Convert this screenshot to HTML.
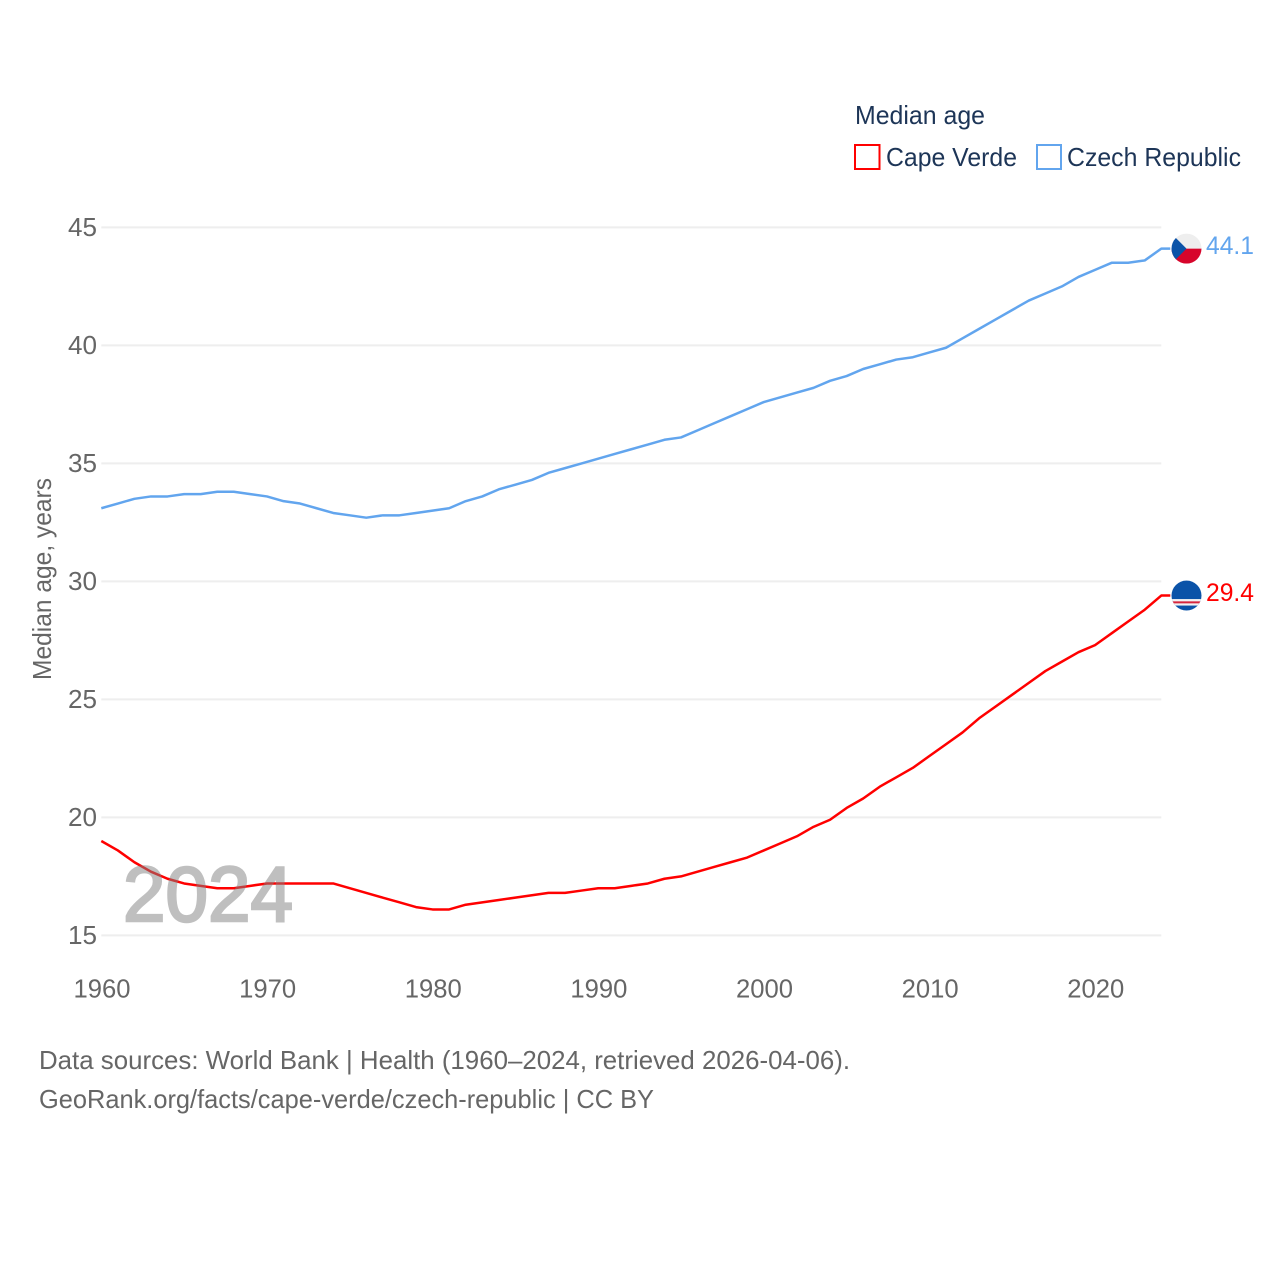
<!DOCTYPE html>
<html lang="en">
<head>
<meta charset="utf-8">
<title>Median age: Cape Verde and Czech Republic</title>
<style>
html,body{margin:0;padding:0;background:#fff;}
svg{display:block;}
text{font-family:"Liberation Sans",sans-serif;}
</style>
</head>
<body>
<svg id="chart" width="1280" height="1280" viewBox="0 0 1280 1280" xmlns="http://www.w3.org/2000/svg">
  <defs>
    <clipPath id="flag-clip-cz"><circle id="clip-cz" r="15"/></clipPath>
    <clipPath id="flag-clip-cv"><circle id="clip-cv" r="15"/></clipPath>
  </defs>
  <g id="grid"></g>
  <g id="yticks"></g>
  <g id="xticks"></g>
  <text transform="translate(51,680) rotate(-90)" font-size="26" fill="#666" textLength="202" lengthAdjust="spacingAndGlyphs">Median age, years</text>
  <g id="series"></g>
  <text x="123" y="921" font-size="78" fill="#808080" stroke="#808080" stroke-width="2.5" opacity="0.5" textLength="170" lengthAdjust="spacingAndGlyphs">2024</text>
  <g id="flag-cz" clip-path="url(#flag-clip-cz)"></g>
  <g id="flag-cv" clip-path="url(#flag-clip-cv)"></g>
  <g id="end-labels"></g>

  <g>
    <text x="855" y="124" font-size="26" fill="#1d3557" textLength="130" lengthAdjust="spacingAndGlyphs">Median age</text>
    <g>
      <rect x="855" y="145" width="24.5" height="24" fill="#fff" stroke="#ff0000" stroke-width="2"/>
      <text x="886" y="166" font-size="26" fill="#1d3557" textLength="131" lengthAdjust="spacingAndGlyphs">Cape Verde</text>
    </g>
    <g>
      <rect x="1037" y="145" width="24" height="24" fill="#fff" stroke="#62a5ee" stroke-width="2"/>
      <text x="1067" y="166" font-size="26" fill="#1d3557" textLength="174" lengthAdjust="spacingAndGlyphs">Czech Republic</text>
    </g>
  </g>

  <g>
    <text x="39" y="1069" font-size="26" fill="#666" textLength="811" lengthAdjust="spacingAndGlyphs">Data sources: World Bank | Health (1960–2024, retrieved 2026-04-06).</text>
    <text x="39" y="1108" font-size="26" fill="#666" textLength="615" lengthAdjust="spacingAndGlyphs">GeoRank.org/facts/cape-verde/czech-republic | CC BY</text>
  </g>
</svg>
<script>
const years = [1960,1961,1962,1963,1964,1965,1966,1967,1968,1969,1970,1971,1972,1973,1974,1975,1976,1977,1978,1979,1980,1981,1982,1983,1984,1985,1986,1987,1988,1989,1990,1991,1992,1993,1994,1995,1996,1997,1998,1999,2000,2001,2002,2003,2004,2005,2006,2007,2008,2009,2010,2011,2012,2013,2014,2015,2016,2017,2018,2019,2020,2021,2022,2023,2024];
const capeVerde = [19.0,18.6,18.1,17.7,17.4,17.2,17.1,17.0,17.0,17.1,17.2,17.2,17.2,17.2,17.2,17.0,16.8,16.6,16.4,16.2,16.1,16.1,16.3,16.4,16.5,16.6,16.7,16.8,16.8,16.9,17.0,17.0,17.1,17.2,17.4,17.5,17.7,17.9,18.1,18.3,18.6,18.9,19.2,19.6,19.9,20.4,20.8,21.3,21.7,22.1,22.6,23.1,23.6,24.2,24.7,25.2,25.7,26.2,26.6,27.0,27.3,27.8,28.3,28.8,29.4];
const czechRepublic = [33.1,33.3,33.5,33.6,33.6,33.7,33.7,33.8,33.8,33.7,33.6,33.4,33.3,33.1,32.9,32.8,32.7,32.8,32.8,32.9,33.0,33.1,33.4,33.6,33.9,34.1,34.3,34.6,34.8,35.0,35.2,35.4,35.6,35.8,36.0,36.1,36.4,36.7,37.0,37.3,37.6,37.8,38.0,38.2,38.5,38.7,39.0,39.2,39.4,39.5,39.7,39.9,40.3,40.7,41.1,41.5,41.9,42.2,42.5,42.9,43.2,43.5,43.5,43.6,44.1];
const yTickLabels = [15,20,25,30,35,40,45];
const xTickLabels = [1960,1970,1980,1990,2000,2010,2020];

const NS = 'http://www.w3.org/2000/svg';
const xScale = function (year) { return 101.3 + (year - 1960) * (1161.3 - 101.3) / (2024 - 1960); };
const yScale = function (value) { return 935.4 - (value - 15) * (935.4 - 227.4) / (45 - 15); };
const make = function (tag, attrs, parent, content) {
  const el = document.createElementNS(NS, tag);
  for (const k in attrs) el.setAttribute(k, attrs[k]);
  if (content !== undefined) el.textContent = content;
  parent.appendChild(el);
  return el;
};

const grid = document.getElementById('grid');
const yticks = document.getElementById('yticks');
const xticks = document.getElementById('xticks');
const series = document.getElementById('series');
const endLabels = document.getElementById('end-labels');

yTickLabels.forEach(function (v) {
  const line = make('line', {x1: 101.3, x2: 1161.3, y1: yScale(v), y2: yScale(v), stroke: '#eeeeee', 'stroke-width': 2}, grid);
  
  
  const label = make('text', {x: 97, y: yScale(v) + 8.6, 'text-anchor': 'end', 'font-size': 26, fill: '#666', textLength: 29, lengthAdjust: 'spacingAndGlyphs'}, yticks, String(v));
  
  
});

xTickLabels.forEach(function (y) {
  const label = make('text', {x: xScale(y) + 0.7, y: 997.5, 'text-anchor': 'middle', 'font-size': 26, fill: '#666', textLength: 57, lengthAdjust: 'spacingAndGlyphs'}, xticks, String(y));
  
  
});

const drawSeries = function (values, color) {
  const pts = values.map(function (v, i) { return xScale(years[i]).toFixed(2) + ',' + yScale(v).toFixed(2); });
  const last = values[values.length - 1];
  pts.push((xScale(years[years.length - 1]) + 9).toFixed(2) + ',' + yScale(last).toFixed(2));
  const line = make('polyline', {points: pts.join(' '), fill: 'none', stroke: color, 'stroke-width': 2.5, 'stroke-linejoin': 'round'}, series);
  
  
  const label = make('text', {x: 1206, y: yScale(last) + 5.6, 'font-size': 25, fill: color, textLength: 48, lengthAdjust: 'spacingAndGlyphs'}, endLabels, last.toFixed(1));
  
  
};
drawSeries(capeVerde, '#ff0000');
drawSeries(czechRepublic, '#62a5ee');

const flagX = 1186.5;
const czY = yScale(czechRepublic[czechRepublic.length - 1]);
const cvY = yScale(capeVerde[capeVerde.length - 1]);
document.getElementById('clip-cz').setAttribute('cx', flagX);
document.getElementById('clip-cz').setAttribute('cy', czY);
document.getElementById('clip-cv').setAttribute('cx', flagX);
document.getElementById('clip-cv').setAttribute('cy', cvY);

const cz = document.getElementById('flag-cz');
make('rect', {x: flagX - 15, y: czY - 15, width: 30, height: 15, fill: '#eeeeee'}, cz);
make('rect', {x: flagX - 15, y: czY, width: 30, height: 15, fill: '#d7052b'}, cz);
make('polygon', {points: (flagX - 15) + ',' + (czY - 15) + ' ' + flagX + ',' + czY + ' ' + (flagX - 15) + ',' + (czY + 15), fill: '#0b53a8'}, cz);

const cv = document.getElementById('flag-cv');
make('rect', {x: flagX - 15, y: cvY - 15, width: 30, height: 30, fill: '#0b53a8'}, cv);
make('rect', {x: flagX - 15, y: cvY + 3.5, width: 30, height: 6.5, fill: '#f2f2f2'}, cv);
make('rect', {x: flagX - 15, y: cvY + 5.8, width: 30, height: 2, fill: '#d7263d'}, cv);
</script>
</body>
</html>
